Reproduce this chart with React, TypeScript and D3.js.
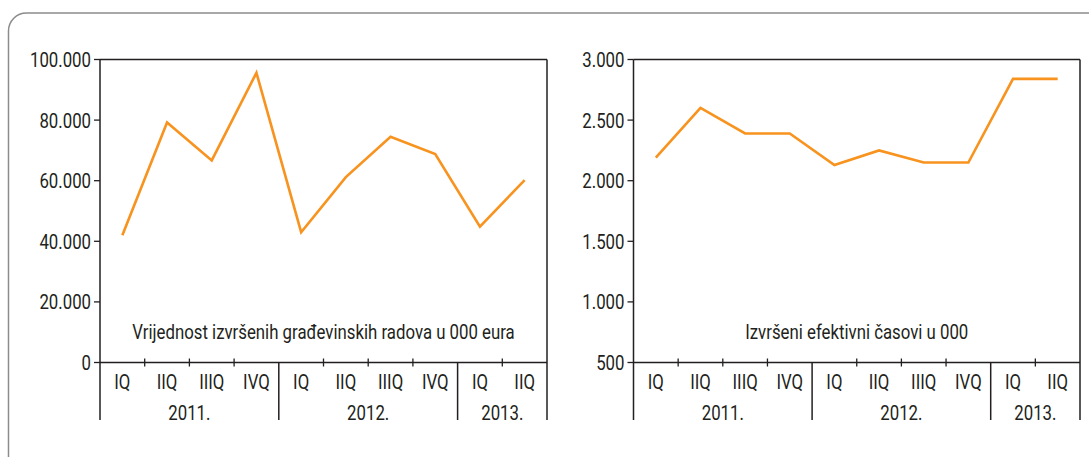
import React from "react";
import * as d3 from "d3";

const quarters = ["IQ", "IIQ", "IIIQ", "IVQ", "IQ", "IIQ", "IIIQ", "IVQ", "IQ", "IIQ"];
const years = ["2011.", "2012.", "2013."];
const yearSpans = [4, 4, 2];
const valueSeries = [42000, 79200, 66700, 95600, 43000, 61200, 74500, 68800, 44800, 60200];
const hoursSeries = [2190, 2600, 2390, 2390, 2130, 2250, 2150, 2150, 2840, 2840];
const valueTicks = [0, 20000, 40000, 60000, 80000, 100000];
const hoursTicks = [500, 1000, 1500, 2000, 2500, 3000];
const valueTitle = "Vrijednost izvršenih građevinskih radova u 000 eura";
const hoursTitle = "Izvršeni efektivni časovi u 000";

const FONT = "Roboto, 'Noto Sans', sans-serif";
const ORANGE = "#F7931E";
const AXIS = "#231F20";
const SX = 0.8;
const FS = 21;

const fmt = (v: number) => d3.format(",")(v).replace(/,/g, ".");

function Txt({ x, y, anchor, children }: { x: number; y: number; anchor: string; children: React.ReactNode }) {
  return (
    <text transform={`translate(${x},${y}) scale(${SX},1)`} dy="0.36em" textAnchor={anchor}
      fontFamily={FONT} fontSize={FS} fill={AXIS}>{children}</text>
  );
}

type PanelProps = {
  x0: number;
  x1: number;
  data: number[];
  ticks: number[];
  domain: [number, number];
  title: string;
};

function Panel({ x0, x1, data, ticks, domain, title }: PanelProps) {
  const top = 59.5;
  const bottom = 362.5;
  const lowEnd = 420;
  const x = d3.scaleBand<number>().domain(d3.range(quarters.length)).range([x0, x1]).padding(0);
  const y = d3.scaleLinear().domain(domain).range([bottom, top]);
  const line = d3
    .line<number>()
    .x((_, i) => (x(i) as number) + x.bandwidth() / 2)
    .y((d) => y(d));

  const bounds: number[] = [0];
  yearSpans.forEach((s) => bounds.push(bounds[bounds.length - 1] + s));
  const boundX = (k: number) => (k >= quarters.length ? x1 : (x(k) as number));
  const sepIdx = new Set(bounds);

  return (
    <g>
      <line x1={x0} x2={x1} y1={top} y2={top} stroke={AXIS} strokeWidth={1.5} />
      <line x1={x0} x2={x1} y1={bottom} y2={bottom} stroke={AXIS} strokeWidth={1.5} />
      {bounds.map((b, i) => {
        const edge = b === 0 || b === quarters.length;
        return (
          <line key={"v" + i} x1={boundX(b)} x2={boundX(b)} y1={edge ? top : bottom} y2={lowEnd}
            stroke={AXIS} strokeWidth={1.5} />
        );
      })}
      {d3.range(1, quarters.length).filter((k) => !sepIdx.has(k)).map((k) => (
        <line key={"qt" + k} x1={x(k) as number} x2={x(k) as number} y1={bottom - 4} y2={bottom + 4}
          stroke={AXIS} strokeWidth={1.3} />
      ))}
      {ticks.map((t) => (
        <g key={"yt" + t}>
          <line x1={x0 - 6} x2={x0} y1={y(t)} y2={y(t)} stroke={AXIS} strokeWidth={1.3} />
          <Txt x={x0 - 9} y={y(t)} anchor="end">{fmt(t)}</Txt>
        </g>
      ))}
      {quarters.map((q, i) => (
        <Txt key={"q" + i} x={(x(i) as number) + x.bandwidth() / 2} y={381} anchor="middle">{q}</Txt>
      ))}
      {years.map((yr, i) => {
        const a = boundX(bounds[i]);
        const b = boundX(bounds[i + 1]);
        return <Txt key={"y" + i} x={(a + b) / 2} y={412} anchor="middle">{yr}</Txt>;
      })}
      <Txt x={(x0 + x1) / 2} y={331} anchor="middle">{title}</Txt>
      <path d={line(data) || ""} fill="none" stroke={ORANGE} strokeWidth={2.6} strokeLinejoin="miter" />
    </g>
  );
}

export default function App() {
  return (
    <svg width={1089} height={457} style={{ position: "absolute", left: 0, top: 0, background: "#fff" }}>
      <rect x={8.5} y={13} width={1100} height={470} rx={18} ry={18} fill="#fff"
        stroke="#8C8C8C" strokeWidth={1.5} />
      <Panel x0={100} x1={547} data={valueSeries} ticks={valueTicks} domain={[0, 100000]} title={valueTitle} />
      <Panel x0={633.5} x1={1080} data={hoursSeries} ticks={hoursTicks} domain={[500, 3000]} title={hoursTitle} />
    </svg>
  );
}
